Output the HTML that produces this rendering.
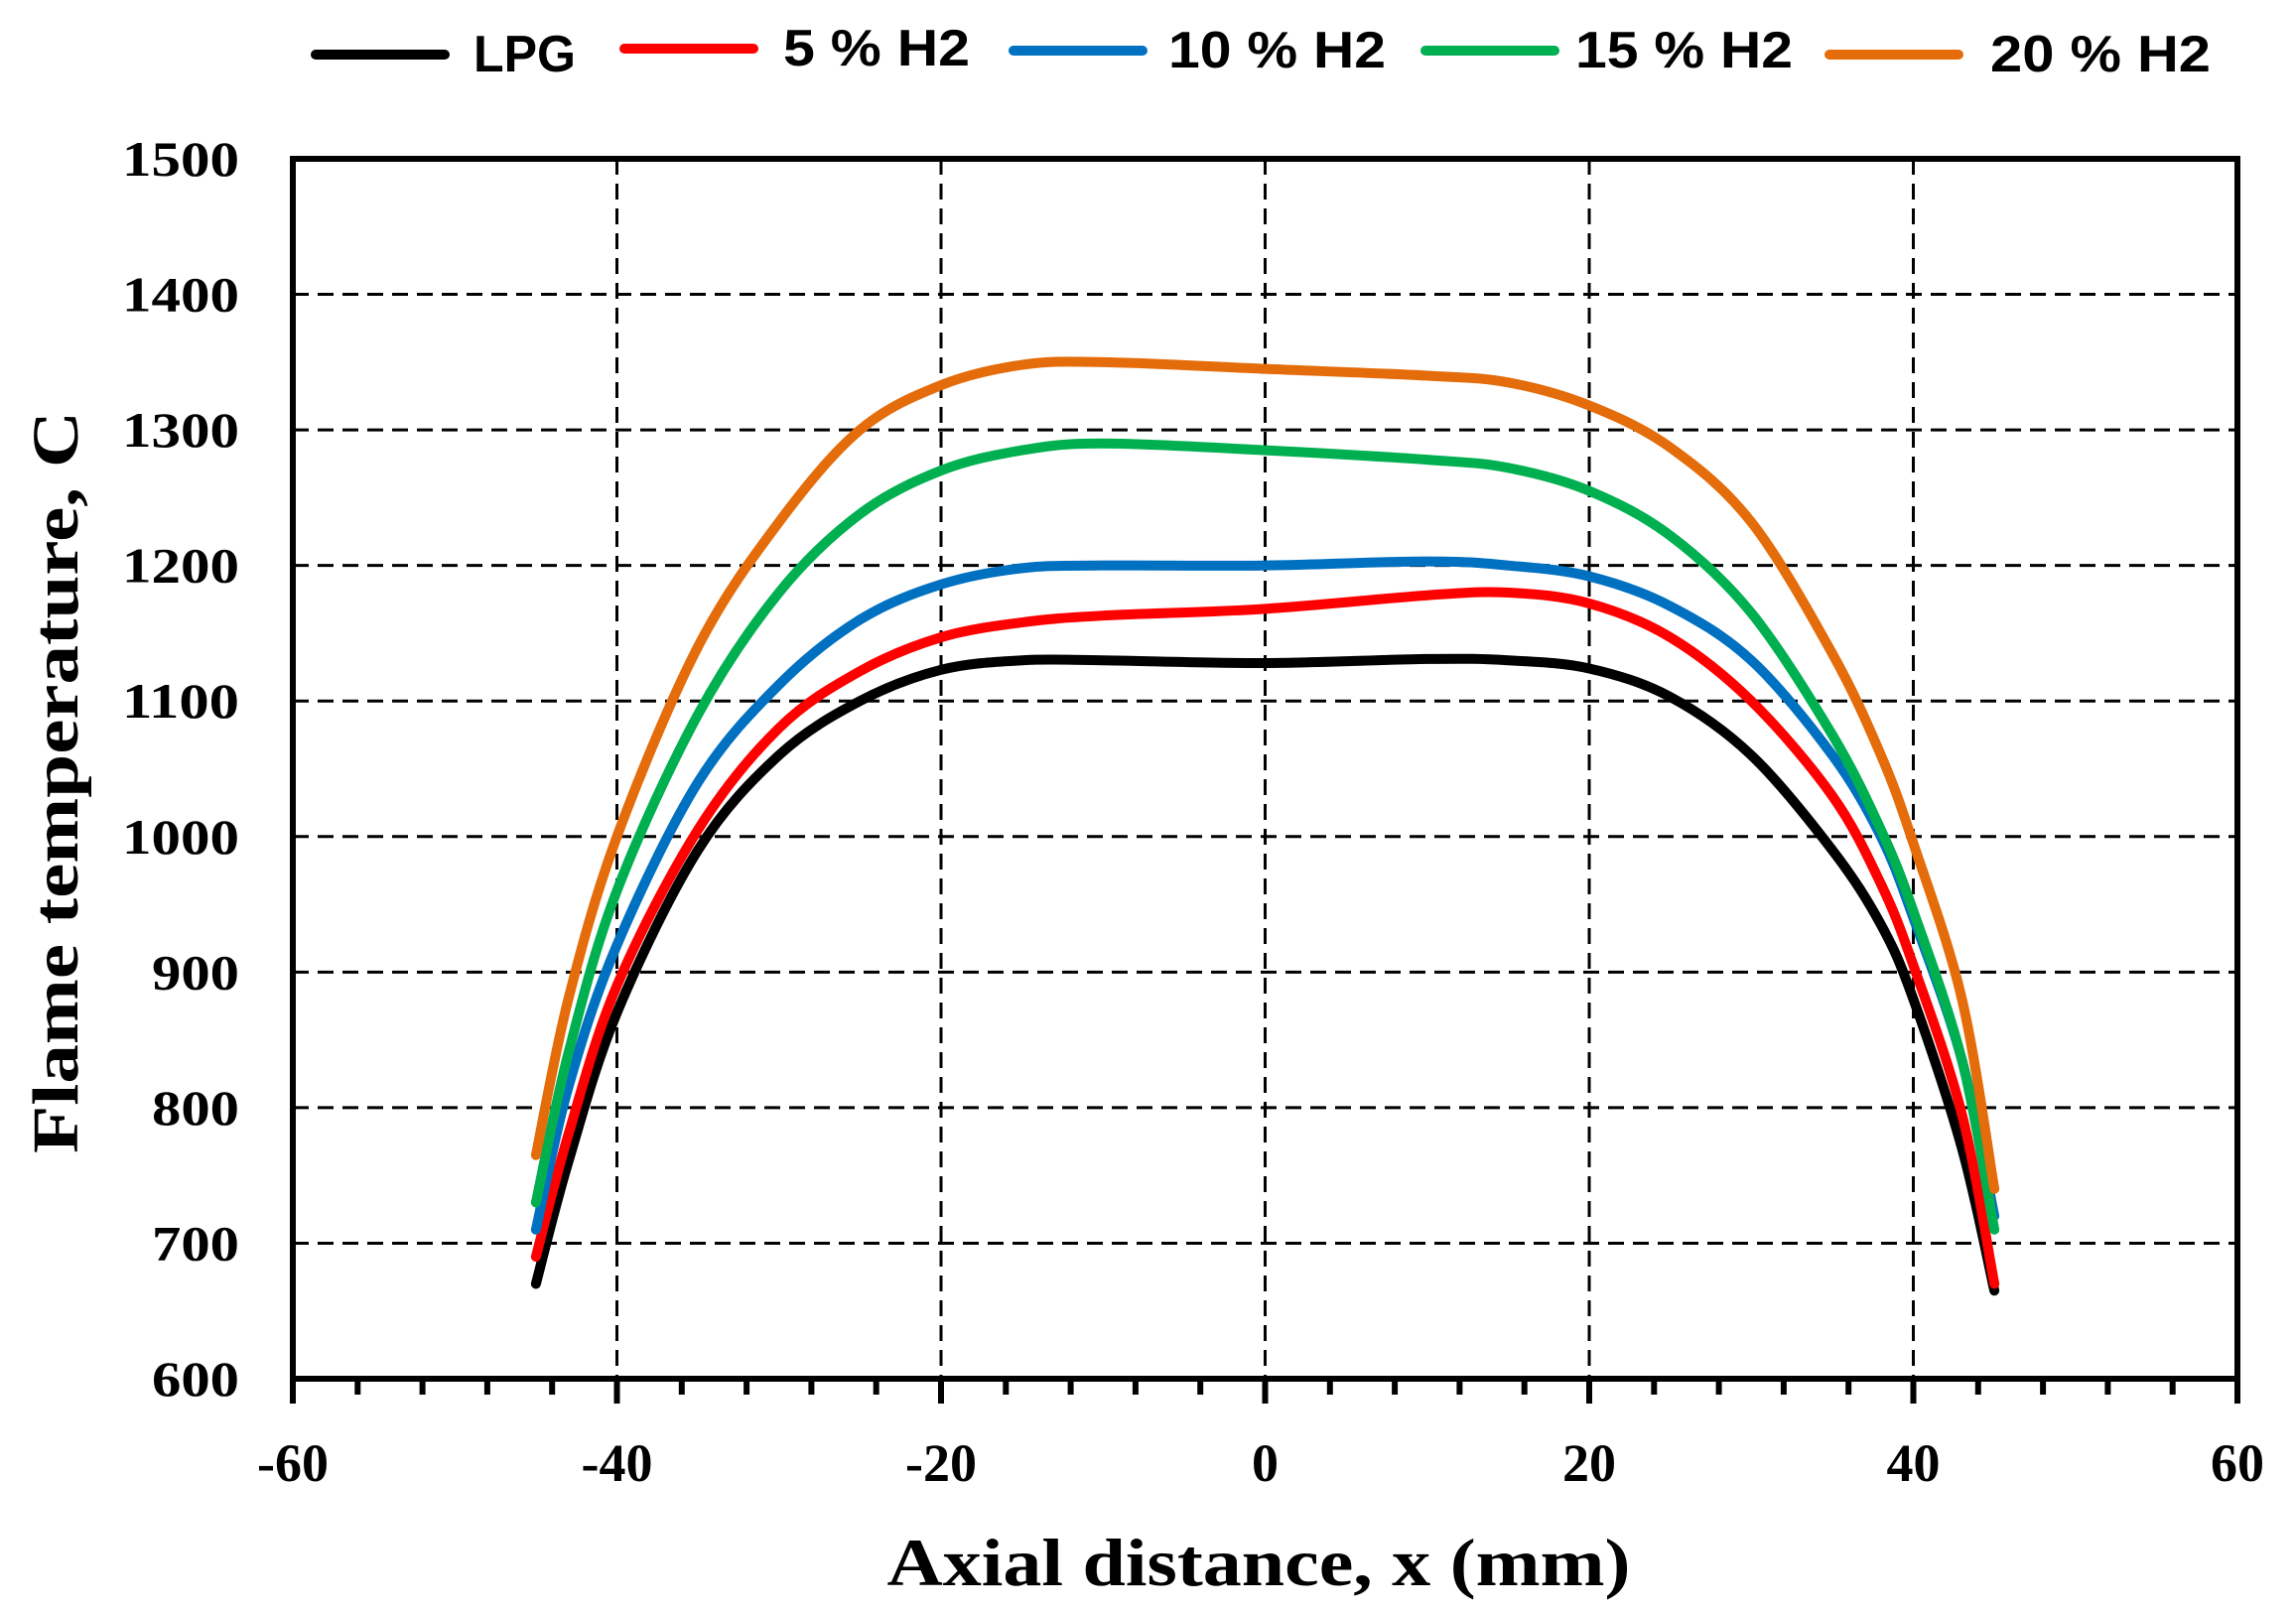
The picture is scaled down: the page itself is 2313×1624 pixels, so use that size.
<!DOCTYPE html>
<html><head><meta charset="utf-8"><style>body{margin:0;background:#fff}svg{display:block}</style></head>
<body>
<svg id="s" width="2313" height="1624" xmlns="http://www.w3.org/2000/svg">
<rect width="2313" height="1624" fill="#fff"/>
<g id="grid" stroke="#000" stroke-width="3" stroke-dasharray="16,9"></g>
<g id="curves" fill="none" stroke-width="10" stroke-linejoin="round" stroke-linecap="round"></g>
<rect x="295" y="160" width="1959" height="1229" fill="none" stroke="#000" stroke-width="6"/>
<g id="ticks" stroke="#000" stroke-width="6"></g>
<g id="ylab" font-family="Liberation Serif, serif" font-weight="bold" font-size="50" text-anchor="end"></g>
<g id="xlab" font-family="Liberation Serif, serif" font-weight="bold" font-size="54" text-anchor="middle"></g>
<text x="1268" y="1597" font-family="Liberation Serif, serif" font-weight="bold" font-size="68" text-anchor="middle" textLength="749" lengthAdjust="spacingAndGlyphs">Axial distance, x (mm)</text>
<text transform="translate(78,788) rotate(-90)" font-family="Liberation Serif, serif" font-weight="bold" font-size="66" text-anchor="middle" textLength="748" lengthAdjust="spacingAndGlyphs">Flame  temperature,  C</text>
<g stroke-width="10" stroke-linecap="round">
<line x1="318" y1="55" x2="448" y2="55" stroke="#000"/>
<line x1="629" y1="49" x2="759" y2="49" stroke="#ff0000"/>
<line x1="1021" y1="51" x2="1151" y2="51" stroke="#0070c0"/>
<line x1="1436" y1="51" x2="1566" y2="51" stroke="#00b050"/>
<line x1="1843" y1="55" x2="1973" y2="55" stroke="#e46c0a"/>
</g>
<g font-family="Liberation Sans, sans-serif" font-weight="bold" font-size="52">
<text x="477" y="72" textLength="103" lengthAdjust="spacingAndGlyphs">LPG</text>
<text x="789" y="66" textLength="188" lengthAdjust="spacingAndGlyphs">5 % H2</text>
<text x="1177" y="68" textLength="219" lengthAdjust="spacingAndGlyphs">10 % H2</text>
<text x="1587" y="68" textLength="219" lengthAdjust="spacingAndGlyphs">15 % H2</text>
<text x="2005" y="72" textLength="222" lengthAdjust="spacingAndGlyphs">20 % H2</text>
</g>
</svg>
<script>
const NS="http://www.w3.org/2000/svg";
const X=x=>295+(x+60)*1959/120, Y=t=>1389-(t-600)*1229/900;
function el(p,n,a){const e=document.createElementNS(NS,n);for(const k in a)e.setAttribute(k,a[k]);p.appendChild(e);return e;}
const g=document.getElementById('grid'),tk=document.getElementById('ticks');
for(let x=-40;x<=40;x+=20)el(g,'line',{x1:X(x),x2:X(x),y1:160,y2:1389});
for(let t=700;t<=1400;t+=100)el(g,'line',{x1:295,x2:2254,y1:Y(t),y2:Y(t)});
for(let x=-60;x<=60;x+=4){const maj=x%20==0;el(tk,'line',{x1:X(x),x2:X(x),y1:1389,y2:maj?1414:1405});}
const yl=document.getElementById('ylab'),xl=document.getElementById('xlab');
for(let t=600;t<=1500;t+=100)el(yl,'text',{x:241,y:Y(t)+17,textLength:t<1000?88:118,lengthAdjust:'spacingAndGlyphs'}).textContent=t;
for(let x=-60;x<=60;x+=20)el(xl,'text',{x:X(x),y:1492}).textContent=x;
const xs=[-45,-43,-40,-35,-30,-25,-20,-15,-10,0,10,15,20,25,30,35,38,40,43,45];
const S=[
["#000",[670,760,870,990,1060,1100,1123,1130,1130,1128,1131,1130,1124,1103,1060,990,935,880,770,665]],
["#ff0000",[690,780,890,1005,1080,1122,1147,1158,1163,1168,1178,1180,1172,1147,1100,1030,965,905,795,670]],
["#0070c0",[710,815,920,1040,1112,1160,1186,1198,1200,1200,1203,1200,1192,1170,1130,1060,1000,940,835,720]],
["#00b050",[730,840,960,1090,1180,1238,1270,1285,1290,1285,1278,1272,1255,1222,1165,1075,1005,945,835,710]],
["#e46c0a",[765,880,1000,1140,1232,1300,1333,1348,1350,1345,1340,1335,1318,1287,1232,1135,1060,995,880,740]]];
const c=document.getElementById('curves');
for(const [col,ts] of S){const P=xs.map((x,i)=>[X(x),Y(ts[i])]);let d=`M${P[0]}`;
for(let i=0;i<P.length-1;i++){const p0=P[Math.max(0,i-1)],p1=P[i],p2=P[i+1],p3=P[Math.min(P.length-1,i+2)];
d+=` C${p1[0]+(p2[0]-p0[0])/6},${p1[1]+(p2[1]-p0[1])/6} ${p2[0]-(p3[0]-p1[0])/6},${p2[1]-(p3[1]-p1[1])/6} ${p2[0]},${p2[1]}`;}
el(c,'path',{d:d,stroke:col});}
</script>
</body></html>
